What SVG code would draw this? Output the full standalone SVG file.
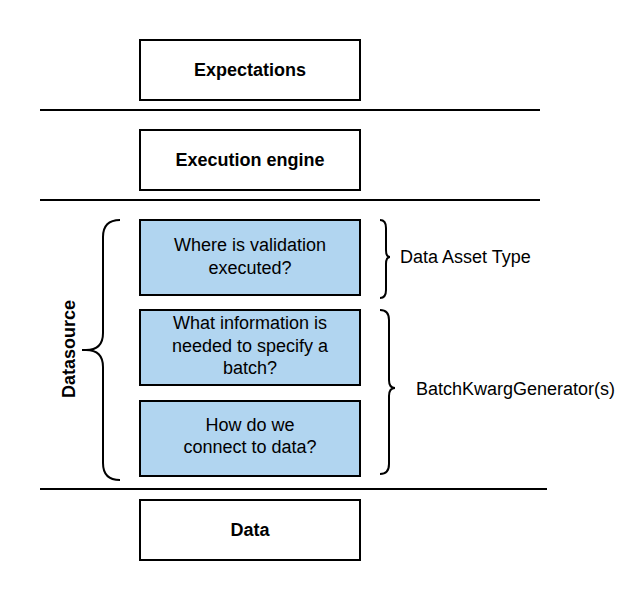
<svg xmlns="http://www.w3.org/2000/svg" width="640" height="600" viewBox="0 0 640 600">
<style>
.box{fill:#ffffff;stroke:#000;stroke-width:2}
.blue{fill:#b1d5f0;stroke:#000;stroke-width:2}
.t{font-family:"Liberation Sans",Arial,sans-serif;font-size:18px;fill:#000;text-anchor:middle}
.b{font-weight:bold}
.sep{stroke:#000;stroke-width:2;fill:none}
.br{stroke:#000;stroke-width:2;fill:none}
</style>
<rect width="640" height="600" fill="#fff"/>
<g id="separators">
<line class="sep" x1="40" y1="110" x2="540" y2="110"/>
<line class="sep" x1="40" y1="200" x2="540" y2="200"/>
<line class="sep" x1="40" y1="489" x2="547" y2="489"/>
</g>
<g id="expectations">
<rect class="box" x="140" y="40" width="220" height="60"/>
<text class="t b" x="250" y="76">Expectations</text>
</g>
<g id="execution-engine">
<rect class="box" x="140" y="130" width="220" height="60"/>
<text class="t b" x="250" y="166">Execution engine</text>
</g>
<g id="where">
<rect class="blue" x="140" y="220" width="220" height="75"/>
<text class="t" x="250" y="251">Where is validation</text>
<text class="t" x="250" y="274">executed?</text>
</g>
<g id="what">
<rect class="blue" x="140" y="310" width="220" height="75"/>
<text class="t" x="250" y="329">What information is</text>
<text class="t" x="250" y="352">needed to specify a</text>
<text class="t" x="250" y="374">batch?</text>
</g>
<g id="how">
<rect class="blue" x="140" y="401" width="220" height="75"/>
<text class="t" x="250" y="431">How do we</text>
<text class="t" x="250" y="453">connect to data?</text>
</g>
<g id="data">
<rect class="box" x="140" y="500" width="220" height="60"/>
<text class="t b" x="250" y="536">Data</text>
</g>
<g id="connectors">
<path class="br" d="M120,220 Q103,220 103,237 L103,333 Q103,350 86,350 L82,350 M86,350 Q103,350 103,367 L103,463 Q103,480 120,480"/>
<path class="br" d="M380,220 Q386,220 386,228 L386,250 Q386,257 390,257 Q386,257 386,264 L386,290 Q386,298 380,298"/>
<path class="br" d="M380,310 Q389,310 389,320 L389,380 Q389,388 395,388 Q389,388 389,396 L389,464 Q389,474 380,474"/>
</g>
<g id="labels">
<text class="t b" x="0" y="0" transform="translate(75,349) rotate(-90)">Datasource</text>
<text class="t" x="400" y="263" style="text-anchor:start">Data Asset Type</text>
<text class="t" x="416" y="395" style="text-anchor:start">BatchKwargGenerator(s)</text>
</g>
</svg>
